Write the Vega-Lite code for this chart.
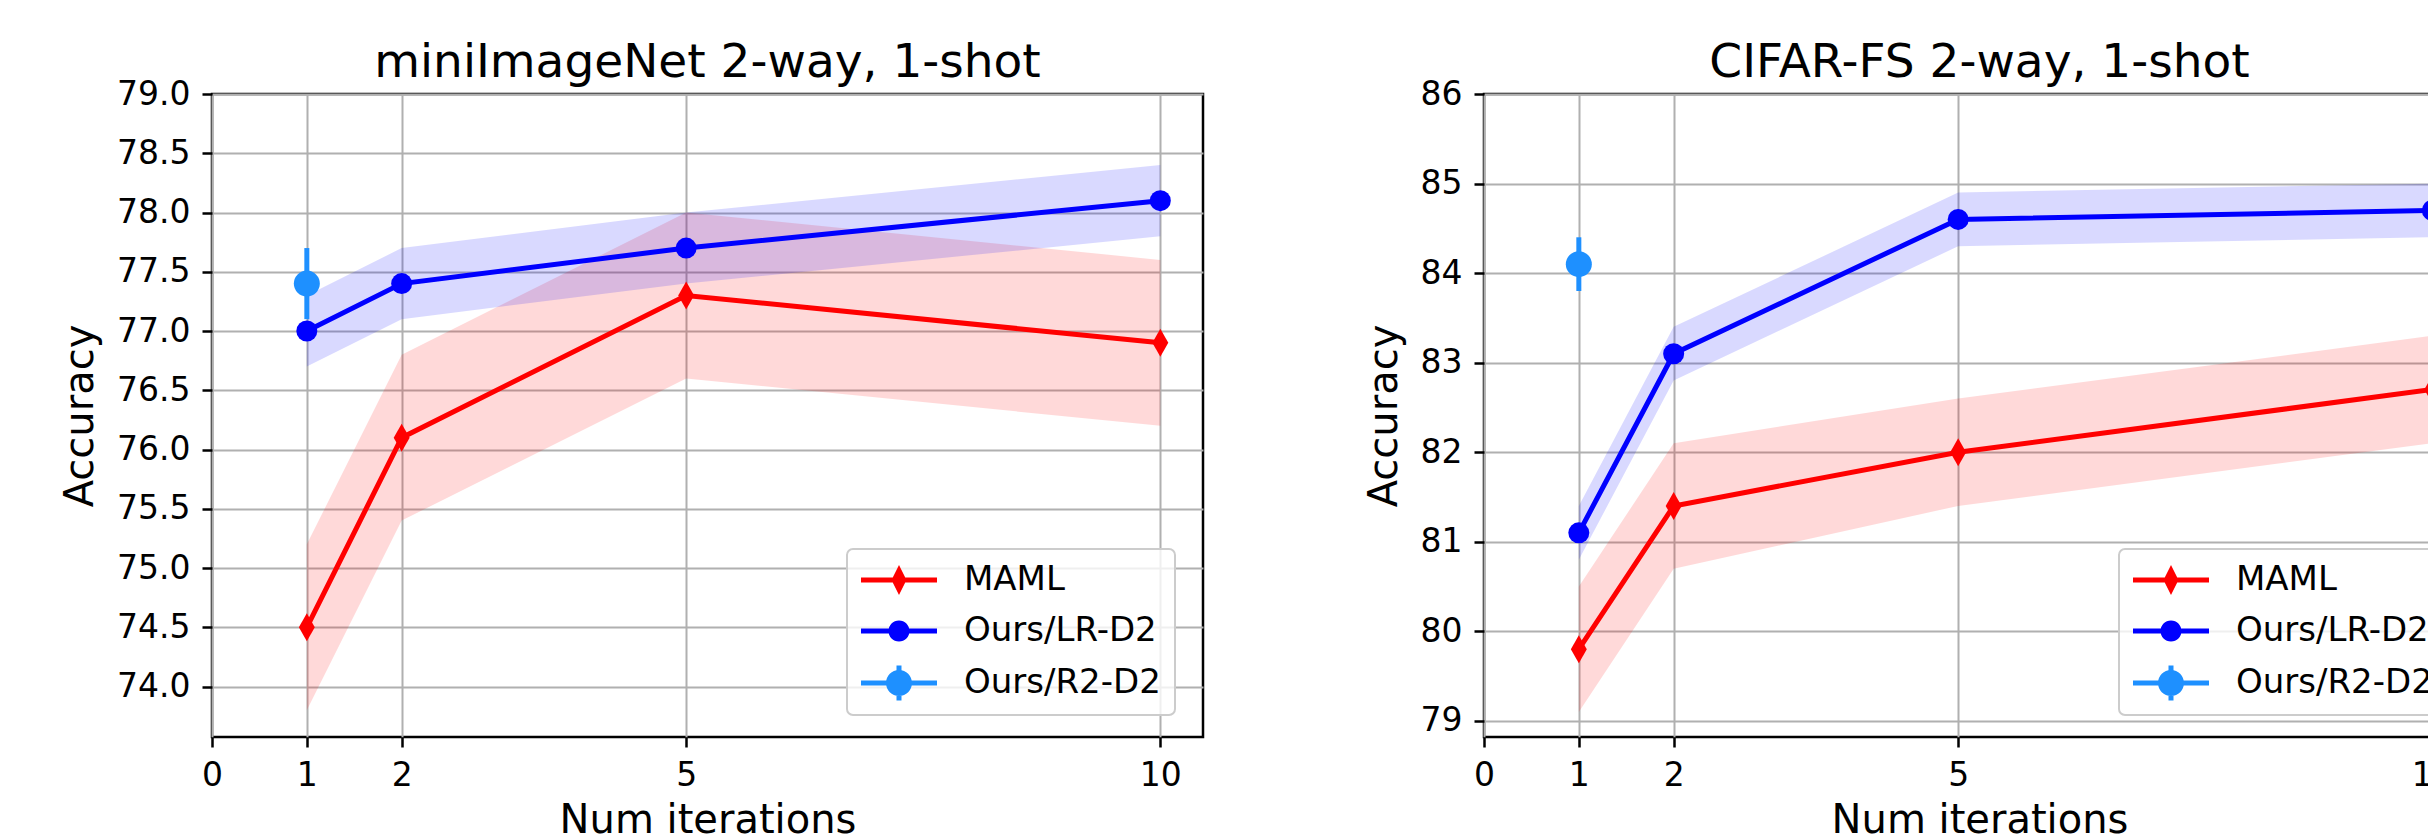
{
  "$schema": "https://vega.github.io/schema/vega-lite/v6.json",
  "padding": {"left": 59, "top": 37, "right": 0, "bottom": 0},
  "background": "white",
  "datasets": {
    "mini": [
      {"it": 1, "method": "MAML", "acc": 74.5, "lo": 73.8, "hi": 75.2},
      {"it": 2, "method": "MAML", "acc": 76.1, "lo": 75.4, "hi": 76.8},
      {"it": 5, "method": "MAML", "acc": 77.3, "lo": 76.6, "hi": 78.0},
      {"it": 10, "method": "MAML", "acc": 76.9, "lo": 76.2, "hi": 77.6},
      {"it": 1, "method": "Ours/LR-D2", "acc": 77.0, "lo": 76.7, "hi": 77.3},
      {"it": 2, "method": "Ours/LR-D2", "acc": 77.4, "lo": 77.1, "hi": 77.7},
      {"it": 5, "method": "Ours/LR-D2", "acc": 77.7, "lo": 77.4, "hi": 78.0},
      {"it": 10, "method": "Ours/LR-D2", "acc": 78.1, "lo": 77.8, "hi": 78.4},
      {"it": 1, "method": "Ours/R2-D2", "acc": 77.4, "lo": 77.1, "hi": 77.7}
    ],
    "cifar": [
      {"it": 1, "method": "MAML", "acc": 79.8, "lo": 79.1, "hi": 80.5},
      {"it": 2, "method": "MAML", "acc": 81.4, "lo": 80.7, "hi": 82.1},
      {"it": 5, "method": "MAML", "acc": 82.0, "lo": 81.4, "hi": 82.6},
      {"it": 10, "method": "MAML", "acc": 82.7, "lo": 82.1, "hi": 83.3},
      {"it": 1, "method": "Ours/LR-D2", "acc": 81.1, "lo": 80.8, "hi": 81.4},
      {"it": 2, "method": "Ours/LR-D2", "acc": 83.1, "lo": 82.8, "hi": 83.4},
      {"it": 5, "method": "Ours/LR-D2", "acc": 84.6, "lo": 84.3, "hi": 84.9},
      {"it": 10, "method": "Ours/LR-D2", "acc": 84.7, "lo": 84.4, "hi": 85.0},
      {"it": 1, "method": "Ours/R2-D2", "acc": 84.1, "lo": 83.8, "hi": 84.4}
    ]
  },
  "hconcat": [
    {
      "width": 991, "height": 643,
      "title": "miniImageNet 2-way, 1-shot",
      "data": {"name": "mini"},
      "encoding": {
        "x": {"field": "it", "type": "quantitative", "scale": {"domain": [0, 10.45], "nice": false, "zero": false},
              "axis": {"values": [0, 1, 2, 5, 10], "format": "d", "title": "Num iterations"}},
        "y": {"field": "acc", "type": "quantitative", "scale": {"domain": [73.574, 79.0], "nice": false, "zero": false},
              "axis": {"values": [74, 74.5, 75, 75.5, 76, 76.5, 77, 77.5, 78, 78.5, 79], "format": ".1f", "title": "Accuracy"}},
        "color": {"field": "method", "type": "nominal", "scale": {"domain": ["MAML", "Ours/LR-D2", "Ours/R2-D2"], "range": ["#ff0000", "#0000ff", "#1e90ff"]},
                  "legend": {"orient": "none", "legendX": 635, "legendY": 455,
                    "encode": {
                      "symbols": {"update": {
                        "shape": {"signal": "datum.value === 'MAML' ? 'M-2.235,-0.147H2.235V0.147H-2.235Z M0,-0.882L0.441,0L0,0.882L-0.441,0Z' : (datum.value === 'Ours/LR-D2' ? 'M-2.235,-0.147H2.235V0.147H-2.235Z M0.62,0A0.62,0.62 0 1,1 -0.62,0A0.62,0.62 0 1,1 0.62,0Z' : 'M-2.235,-0.147H2.235V0.147H-2.235Z M-0.147,-1.03H0.147V1.03H-0.147Z M0.765,0A0.765,0.765 0 1,1 -0.765,0A0.765,0.765 0 1,1 0.765,0Z')"},
                        "size": {"value": 1156},
                        "fill": {"signal": "datum.value === 'MAML' ? '#ff0000' : (datum.value === 'Ours/LR-D2' ? '#0000ff' : '#1e90ff')"},
                        "stroke": {"value": "transparent"},
                        "strokeWidth": {"value": 0},
                        "opacity": {"value": 1},
                        "fillOpacity": {"value": 1}
                      }},
                      "legend": {"update": {"strokeWidth": {"value": 2}}}
                    }}}
      },
      "layer": [
        {
          "transform": [{"filter": "datum.method !== 'Ours/R2-D2'"}],
          "mark": {"type": "area", "fillOpacity": 0.15, "strokeWidth": 0},
          "encoding": {
            "y": {"field": "lo", "type": "quantitative", "scale": {"domain": [73.574, 79.0], "nice": false, "zero": false},
                  "axis": {"values": [74, 74.5, 75, 75.5, 76, 76.5, 77, 77.5, 78, 78.5, 79], "format": ".1f", "title": "Accuracy"}},
            "y2": {"field": "hi"}
          }
        },
        {
          "transform": [{"filter": "datum.method !== 'Ours/R2-D2'"}],
          "mark": {"type": "line", "strokeWidth": 5}
        },
        {
          "transform": [{"filter": "datum.method === 'Ours/R2-D2'"}],
          "mark": {"type": "rule", "strokeWidth": 5},
          "encoding": {
            "y": {"field": "lo", "type": "quantitative", "scale": {"domain": [73.574, 79.0], "nice": false, "zero": false},
                  "axis": {"values": [74, 74.5, 75, 75.5, 76, 76.5, 77, 77.5, 78, 78.5, 79], "format": ".1f", "title": "Accuracy"}},
            "y2": {"field": "hi"}
          }
        },
        {
          "transform": [{"filter": "datum.method === 'MAML'"}],
          "mark": {"type": "point", "filled": true, "opacity": 1, "strokeWidth": 0, "shape": "M0,-1L0.57,0L0,1L-0.57,0Z", "size": 784}
        },
        {
          "transform": [{"filter": "datum.method === 'Ours/LR-D2'"}],
          "mark": {"type": "point", "filled": true, "opacity": 1, "strokeWidth": 0, "shape": "circle", "size": 441}
        },
        {
          "transform": [{"filter": "datum.method === 'Ours/R2-D2'"}],
          "mark": {"type": "point", "filled": true, "opacity": 1, "strokeWidth": 0, "shape": "circle", "size": 676}
        }
      ]
    },
    {
      "width": 991, "height": 643,
      "title": "CIFAR-FS 2-way, 1-shot",
      "data": {"name": "cifar"},
      "encoding": {
        "x": {"field": "it", "type": "quantitative", "scale": {"domain": [0, 10.45], "nice": false, "zero": false},
              "axis": {"values": [0, 1, 2, 5, 10], "format": "d", "title": "Num iterations"}},
        "y": {"field": "acc", "type": "quantitative", "scale": {"domain": [78.82, 86.0], "nice": false, "zero": false},
              "axis": {"values": [79, 80, 81, 82, 83, 84, 85, 86], "format": "d", "title": "Accuracy"}},
        "color": {"field": "method", "type": "nominal", "scale": {"domain": ["MAML", "Ours/LR-D2", "Ours/R2-D2"], "range": ["#ff0000", "#0000ff", "#1e90ff"]},
                  "legend": {"orient": "none", "legendX": 635, "legendY": 455,
                    "encode": {
                      "symbols": {"update": {
                        "shape": {"signal": "datum.value === 'MAML' ? 'M-2.235,-0.147H2.235V0.147H-2.235Z M0,-0.882L0.441,0L0,0.882L-0.441,0Z' : (datum.value === 'Ours/LR-D2' ? 'M-2.235,-0.147H2.235V0.147H-2.235Z M0.62,0A0.62,0.62 0 1,1 -0.62,0A0.62,0.62 0 1,1 0.62,0Z' : 'M-2.235,-0.147H2.235V0.147H-2.235Z M-0.147,-1.03H0.147V1.03H-0.147Z M0.765,0A0.765,0.765 0 1,1 -0.765,0A0.765,0.765 0 1,1 0.765,0Z')"},
                        "size": {"value": 1156},
                        "fill": {"signal": "datum.value === 'MAML' ? '#ff0000' : (datum.value === 'Ours/LR-D2' ? '#0000ff' : '#1e90ff')"},
                        "stroke": {"value": "transparent"},
                        "strokeWidth": {"value": 0},
                        "opacity": {"value": 1},
                        "fillOpacity": {"value": 1}
                      }},
                      "legend": {"update": {"strokeWidth": {"value": 2}}}
                    }}}
      },
      "layer": [
        {
          "transform": [{"filter": "datum.method !== 'Ours/R2-D2'"}],
          "mark": {"type": "area", "fillOpacity": 0.15, "strokeWidth": 0},
          "encoding": {
            "y": {"field": "lo", "type": "quantitative", "scale": {"domain": [78.82, 86.0], "nice": false, "zero": false},
                  "axis": {"values": [79, 80, 81, 82, 83, 84, 85, 86], "format": "d", "title": "Accuracy"}},
            "y2": {"field": "hi"}
          }
        },
        {
          "transform": [{"filter": "datum.method !== 'Ours/R2-D2'"}],
          "mark": {"type": "line", "strokeWidth": 5}
        },
        {
          "transform": [{"filter": "datum.method === 'Ours/R2-D2'"}],
          "mark": {"type": "rule", "strokeWidth": 5},
          "encoding": {
            "y": {"field": "lo", "type": "quantitative", "scale": {"domain": [78.82, 86.0], "nice": false, "zero": false},
                  "axis": {"values": [79, 80, 81, 82, 83, 84, 85, 86], "format": "d", "title": "Accuracy"}},
            "y2": {"field": "hi"}
          }
        },
        {
          "transform": [{"filter": "datum.method === 'MAML'"}],
          "mark": {"type": "point", "filled": true, "opacity": 1, "strokeWidth": 0, "shape": "M0,-1L0.57,0L0,1L-0.57,0Z", "size": 784}
        },
        {
          "transform": [{"filter": "datum.method === 'Ours/LR-D2'"}],
          "mark": {"type": "point", "filled": true, "opacity": 1, "strokeWidth": 0, "shape": "circle", "size": 441}
        },
        {
          "transform": [{"filter": "datum.method === 'Ours/R2-D2'"}],
          "mark": {"type": "point", "filled": true, "opacity": 1, "strokeWidth": 0, "shape": "circle", "size": 676}
        }
      ]
    }
  ],
  "spacing": 157,
  "resolve": {
    "scale": {"color": "independent"},
    "legend": {"color": "independent"}
  },
  "config": {
    "font": "DejaVu Sans",
    "view": {"stroke": "black", "strokeWidth": 2.5},
    "axis": {
      "domain": false, "grid": true, "gridColor": "#b0b0b0", "gridWidth": 2, "gridOpacity": 1,
      "tickColor": "black", "tickWidth": 2.5, "tickSize": 10,
      "labelFont": "DejaVu Sans", "labelFontSize": 33, "labelColor": "black", "labelPadding": 12,
      "labelFlush": false, "labelOverlap": false,
      "titleFont": "DejaVu Sans", "titleFontSize": 40, "titleFontWeight": "normal", "titleColor": "black"
    },
    "axisY": {"titlePadding": 16},
    "axisX": {"titlePadding": 8},
    "title": {"font": "DejaVu Sans", "fontSize": 47, "fontWeight": "normal", "color": "black", "baseline": "alphabetic", "offset": -9},
    "legend": {
      "title": null,
      "labelFont": "DejaVu Sans", "labelFontSize": 34, "labelColor": "black", "labelLimit": 0,
      "symbolSize": 1156, "symbolOffset": 21, "labelOffset": 48, "rowPadding": 17, "padding": 14,
      "strokeColor": "#cccccc", "fillColor": "rgba(255,255,255,0.8)", "cornerRadius": 6,
      "symbolStrokeWidth": 0,
      "labelBaseline": "middle"
    }
  }
}
